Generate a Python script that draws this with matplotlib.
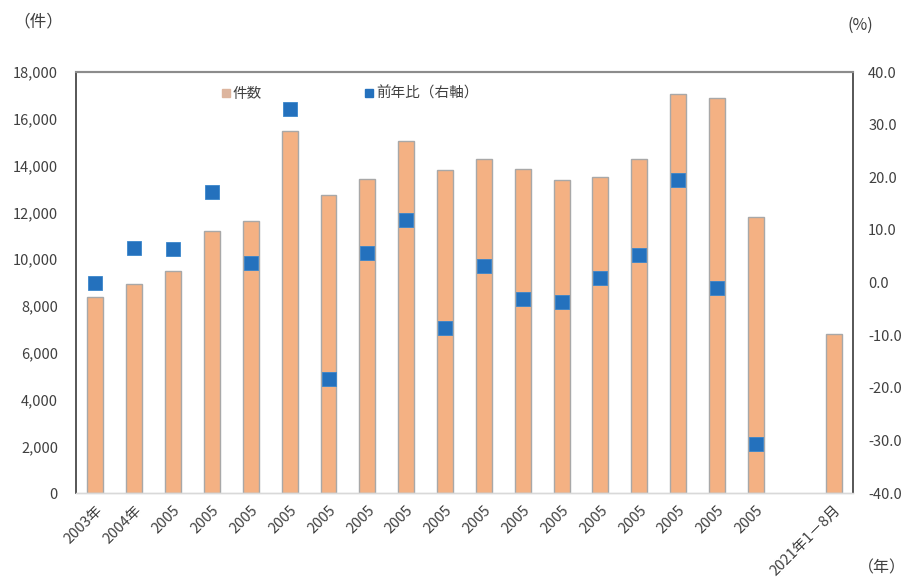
import matplotlib
matplotlib.use("Agg")
import matplotlib.pyplot as plt
import numpy as np
from matplotlib.lines import Line2D

plt.rcParams['font.family'] = ['Noto Sans CJK JP', 'DejaVu Sans']

# Category labels (one empty slot before the partial year)
categories = ['2003年', '2004年'] + ['2005'] * 16 + ['', '2021年1－8月']

# Number of cases (件)
counts = [8400, 8950, 9510, 11200, 11650, 15500, 12750, 13450, 15050,
          13800, 14300, 13850, 13400, 13500, 14300, 17050, 16900, 11800,
          np.nan, 6800]

# Year-on-year change (%), right axis
yoy = [-0.1, 6.5, 6.3, 17.2, 3.7, 32.9, -18.2, 5.6, 11.9, -8.7, 3.2,
       -3.1, -3.6, 0.9, 5.3, 19.5, -1.1, -30.6, np.nan, np.nan]

bar_color = '#F4B183'
bar_edge = '#A8A8A8'
dot_color = '#2471BD'
text_color = '#404040'

fig = plt.figure(figsize=(9.05, 5.84), dpi=100)
ax = fig.add_axes([0.084, 0.1553, 0.8585, 0.7214])
ax2 = ax.twinx()

x = np.arange(len(categories))
ax.bar(x, counts, width=0.41, color=bar_color, edgecolor=bar_edge, linewidth=1.0, zorder=2)
ax2.plot(x, yoy, linestyle='none', marker='s', markersize=9.8,
         color=dot_color, markeredgecolor='#3A86CC', markeredgewidth=0.6, zorder=3)

ax.set_xlim(-0.5, len(categories) - 0.5)
ax.set_ylim(0, 18000)
ax.set_yticks(np.arange(0, 18001, 2000))
ax.set_yticklabels([f'{v:,}' for v in range(0, 18001, 2000)])
ax2.set_ylim(-40, 40)
ax2.set_yticks(np.arange(-40, 41, 10))
ax2.set_yticklabels([f'{v:.1f}' for v in range(-40, 41, 10)])

ax.set_xticks(x)
ax.set_xticklabels(categories, rotation=45, ha='right', va='top',
                   rotation_mode='anchor', fontsize=10.5, color=text_color)

ax.tick_params(axis='y', length=0, pad=13, labelsize=10.5, labelcolor=text_color)
ax.tick_params(axis='x', length=0, pad=7)
ax2.tick_params(axis='y', length=0, pad=11, labelsize=10.5, labelcolor=text_color)

for a in (ax, ax2):
    a.spines['top'].set_color('#8C8C8C')
    a.spines['top'].set_linewidth(1.5)
    a.spines['left'].set_color('#595959')
    a.spines['left'].set_linewidth(1.3)
    a.spines['right'].set_color('#595959')
    a.spines['right'].set_linewidth(1.3)
    a.spines['bottom'].set_color('#D9D9D9')
    a.spines['bottom'].set_linewidth(1.0)

handles = [
    Line2D([0], [0], linestyle='none', marker='s', markersize=6,
           color='#DDB59E', markeredgecolor='#DDB59E'),
    Line2D([0], [0], linestyle='none', marker='s', markersize=6,
           color=dot_color, markeredgecolor=dot_color),
]
leg = ax.legend(handles, ['件数', '前年比（右軸）'], ncol=2, frameon=False,
                loc='upper left', bbox_to_anchor=(0.168, 1.0),
                handlelength=0.6, handletextpad=0.2, columnspacing=7.0,
                fontsize=10.5, borderaxespad=0.6)
for t in leg.get_texts():
    t.set_color(text_color)

fig.text(0.015, 0.962, '（件）', fontsize=12, color=text_color, va='center', ha='left')
fig.text(0.937, 0.957, '(%)', fontsize=11.5, color=text_color, va='center', ha='left')
fig.text(0.948, 0.028, '（年）', fontsize=11.5, color=text_color, va='center', ha='left')

fig.savefig('out.png', dpi=100)
